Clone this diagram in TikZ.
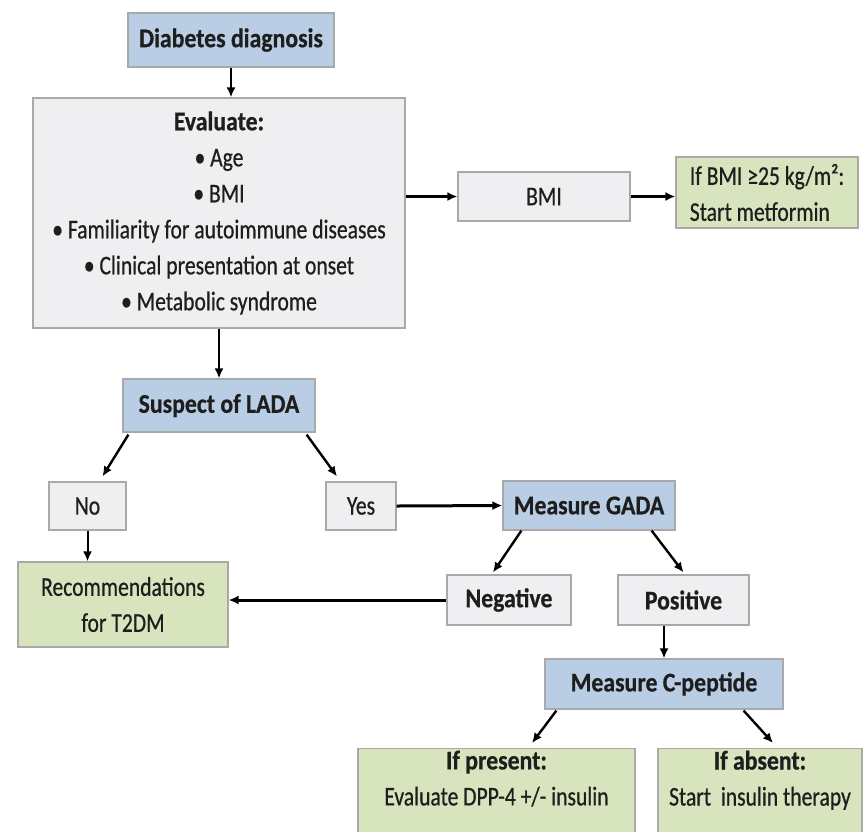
\documentclass[tikz,border=0pt]{standalone}
\usepackage{fontspec}
\setmainfont{Carlito}[FakeStretch=0.8, FakeBold=0.6, BoldFeatures={FakeStretch=0.88}]
\usepackage{tikz}
\usetikzlibrary{arrows.meta, positioning, calc}

\definecolor{boxgrey}{HTML}{EFEFF1}
\definecolor{boxblue}{HTML}{B9CDE5}
\definecolor{boxgreen}{HTML}{D7E4BD}
\definecolor{edgegrey}{HTML}{A9A9A9}
\definecolor{inkdark}{HTML}{1E1E1E}

\begin{document}
\begin{tikzpicture}[
  x=1pt, y=-1pt,
  every node/.style={font=\fontsize{27}{36}\selectfont, text=inkdark, inner sep=2pt},
  greybox/.style={rectangle, draw=edgegrey, line width=1.2pt, fill=boxgrey, align=center},
  bluebox/.style={rectangle, draw=edgegrey, line width=1.2pt, fill=boxblue, align=center, font=\fontsize{27}{36}\selectfont\bfseries},
  greenbox/.style={rectangle, draw=edgegrey, line width=1.2pt, fill=boxgreen, align=center},
  arr/.style={-{Latex[length=10pt,width=9pt]}, line width=2.4pt, black}
]
  \fill[white] (0,0) rectangle (866,831);
  \useasboundingbox (0,0) rectangle (866,831);

  \node[bluebox, minimum width=206pt, minimum height=54pt] (diag) at (231,40) {Diabetes diagnosis};
  \node[greybox, minimum width=372pt, minimum height=230pt] (eval) at (219,213)
    {\textbf{Evaluate:}\\• Age\\• BMI\\• Familiarity for autoimmune diseases\\• Clinical presentation at onset\\• Metabolic syndrome};
  \node[greybox, minimum width=172pt, minimum height=49pt] (bmi) at (544,196.5) {BMI};
  \node[greenbox, align=left, minimum width=182pt, minimum height=71pt] (metf) at (767,192.5)
    {If BMI ≥25 kg/m²:\\Start metformin};

  \node[bluebox, minimum width=192pt, minimum height=53pt] (susp) at (219,405.5) {Suspect of LADA};
  \node[greybox, minimum width=77pt, minimum height=48pt] (no) at (87.5,506) {No};
  \node[greybox, minimum width=70pt, minimum height=48pt] (yes) at (361,506) {Yes};
  \node[bluebox, minimum width=172pt, minimum height=49pt] (gada) at (589,505.5) {Measure GADA};

  \node[greenbox, minimum width=210pt, minimum height=85pt] (rec) at (123,604.5) {Recommendations\\for T2DM};
  \node[greybox, minimum width=124pt, minimum height=50pt, font=\fontsize{27}{36}\selectfont\bfseries] (neg) at (509,600) {Negative};
  \node[greybox, minimum width=131pt, minimum height=50pt, font=\fontsize{27}{36}\selectfont\bfseries] (pos) at (683.5,600) {Positive};

  \node[bluebox, minimum width=238pt, minimum height=50pt] (cpep) at (664,684) {Measure C-peptide};
  \node[greenbox, anchor=north, minimum width=277pt, text depth=40pt] (pres) at (496.5,748)
    {\textbf{If present:}\\Evaluate DPP-4 +/- insulin};
  \node[greenbox, anchor=north, minimum width=204pt, text depth=40pt] (abs) at (760,748)
    {\textbf{If absent:}\\Start\ \ insulin therapy};

  % connectors
  \draw[arr, line width=2pt] (diag.south) -- (diag.south |- eval.north);
  \draw[arr] (eval.east |- bmi.west) -- (bmi.west);
  \draw[arr] (bmi.east) -- (bmi.east -| metf.west);
  \draw[arr, line width=2pt] (eval.south) -- (susp.north);
  \draw[arr] ($(susp.south west)+(6,2)$) -- ($(no.north)+(15,-5)$);
  \draw[arr] ($(susp.south east)+(-9,2)$) -- ($(yes.north)+(-24,-5)$);
  \draw[arr, line width=3pt] (yes.east) -- (gada.west);
  \draw[arr, line width=2pt] (no.south) -- (no.south |- rec.north);
  \draw[arr] ($(gada.south west)+(19,0)$) -- ($(neg.north)+(-16,-2)$);
  \draw[arr] ($(gada.south east)+(-24,0)$) -- ($(pos.north)+(0,-2)$);
  \draw[arr, line width=3pt] (neg.west) -- (neg.west -| rec.east);
  \draw[arr, line width=2pt] (cpep.north |- pos.south) -- (cpep.north);
  \draw[arr] ($(cpep.south west)+(12,1)$) -- ($(pres.north)+(35.5,-5)$);
  \draw[arr] ($(cpep.south east)+(-40,1)$) -- ($(abs.north)+(13,-5)$);
\end{tikzpicture}
\end{document}
